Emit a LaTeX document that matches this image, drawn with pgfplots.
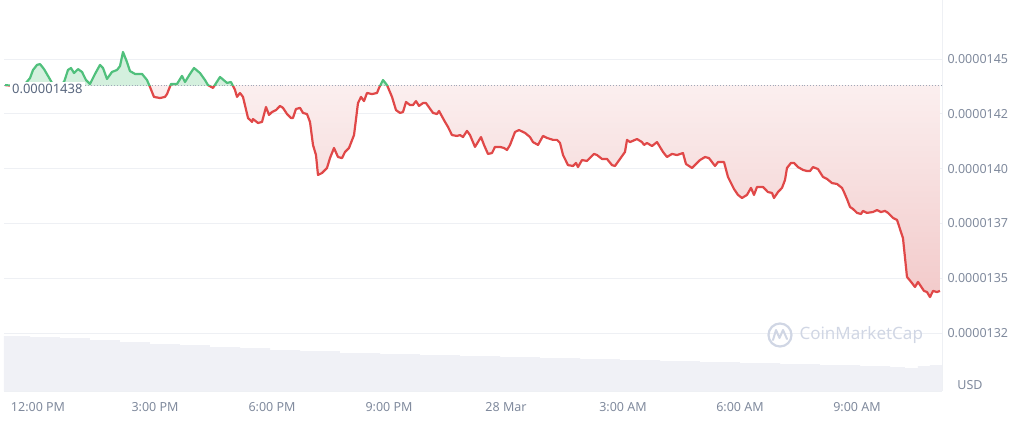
\documentclass[border=0pt]{standalone}
\usepackage{pgfplots}
\pgfplotsset{compat=1.18}
\usepackage{pgfplotstable}
\usepackage{fontspec}
\setmainfont{Noto Sans}
\definecolor{cmcred}{RGB}{224,72,72}
\definecolor{cmcgreen}{RGB}{80,192,124}
\definecolor{lbl}{RGB}{128,138,157}
\definecolor{dark}{RGB}{88,102,126}
\definecolor{gridc}{RGB}{238,240,244}
\definecolor{volc}{RGB}{240,241,246}
\definecolor{wm}{RGB}{208,214,228}
\definecolor{redfill}{RGB}{242,202,202}
\definecolor{greenfill}{RGB}{212,240,222}
\definecolor{dotc}{RGB}{160,168,184}

% price in units of 1e-8 USD, time in hours after 12:00 PM (27 Mar)
\pgfplotstableread{
h v
-0.846 1438.1
-0.590 1437.7
-0.333 1438.6
-0.205 1441.3
-0.128 1445.0
-0.026 1447.3
0.051 1447.7
0.154 1445.4
0.256 1442.3
0.359 1439.1
0.513 1437.7
0.667 1439.5
0.769 1445.0
0.846 1445.9
0.923 1443.6
1.026 1445.4
1.128 1444.1
1.231 1440.4
1.333 1438.6
1.462 1443.2
1.590 1447.3
1.667 1445.9
1.769 1440.9
1.897 1444.1
2.026 1445.0
2.103 1446.8
2.179 1453.2
2.282 1448.6
2.359 1444.5
2.487 1443.2
2.667 1443.2
2.795 1440.4
2.872 1437.2
2.974 1432.7
3.128 1432.2
3.256 1432.7
3.308 1434.0
3.410 1438.6
3.564 1438.6
3.692 1442.3
3.769 1439.5
3.897 1443.2
4.000 1445.9
4.154 1443.6
4.282 1440.4
4.359 1438.1
4.487 1436.8
4.667 1441.8
4.846 1439.1
4.949 1439.5
5.051 1435.9
5.103 1432.7
5.179 1434.5
5.256 1432.7
5.385 1423.1
5.487 1421.3
5.513 1422.6
5.641 1420.8
5.744 1421.3
5.846 1428.1
5.923 1424.5
6.000 1425.8
6.103 1426.7
6.205 1428.6
6.282 1427.7
6.385 1424.9
6.487 1423.1
6.538 1423.1
6.615 1427.2
6.718 1427.7
6.795 1425.4
6.897 1424.9
6.974 1421.3
7.051 1410.8
7.128 1406.2
7.179 1397.1
7.282 1398.0
7.410 1400.3
7.487 1404.8
7.590 1409.4
7.692 1405.3
7.795 1404.8
7.872 1407.6
7.974 1409.4
8.103 1415.3
8.205 1429.9
8.282 1432.7
8.359 1430.8
8.436 1434.5
8.564 1434.0
8.692 1434.5
8.744 1436.8
8.846 1440.4
8.949 1438.1
9.077 1432.7
9.179 1426.7
9.282 1425.4
9.359 1425.8
9.436 1430.4
9.538 1429.0
9.615 1429.0
9.692 1430.8
9.769 1428.6
9.872 1429.9
9.949 1429.9
10.128 1425.4
10.231 1424.9
10.282 1426.3
10.436 1421.3
10.513 1419.0
10.615 1415.3
10.744 1414.9
10.821 1415.3
10.897 1414.4
11.000 1417.2
11.077 1415.3
11.205 1409.9
11.359 1414.4
11.436 1410.8
11.538 1406.7
11.641 1407.1
11.718 1409.9
11.846 1409.9
11.949 1409.4
12.026 1408.5
12.103 1410.8
12.231 1416.7
12.333 1417.6
12.487 1416.3
12.615 1414.4
12.692 1412.1
12.821 1410.8
12.949 1414.9
13.051 1414.0
13.205 1413.1
13.308 1413.1
13.385 1411.7
13.462 1406.2
13.590 1401.6
13.718 1401.2
13.795 1402.6
13.846 1400.7
13.949 1403.9
14.077 1403.5
14.256 1406.7
14.333 1406.2
14.462 1404.4
14.590 1404.4
14.718 1401.6
14.795 1401.2
14.923 1404.4
15.051 1407.6
15.103 1413.1
15.179 1412.1
15.359 1413.5
15.487 1412.1
15.538 1410.8
15.615 1411.7
15.744 1410.3
15.872 1412.1
16.026 1407.6
16.128 1405.3
16.256 1406.7
16.385 1406.2
16.538 1407.1
16.615 1402.1
16.769 1400.3
16.872 1402.1
16.974 1403.9
17.103 1405.3
17.205 1404.8
17.359 1401.2
17.436 1403.0
17.590 1403.0
17.692 1396.2
17.846 1390.7
17.949 1388.0
18.051 1386.6
18.179 1388.0
18.282 1391.2
18.359 1388.0
18.436 1391.6
18.590 1391.6
18.718 1389.3
18.821 1388.9
18.872 1386.6
18.974 1389.3
19.077 1391.2
19.154 1394.8
19.205 1400.3
19.308 1402.6
19.385 1402.6
19.487 1400.7
19.615 1399.4
19.718 1398.9
19.795 1398.9
19.872 1400.7
20.000 1399.8
20.128 1396.2
20.231 1395.3
20.359 1393.4
20.487 1393.0
20.615 1391.2
20.667 1389.3
20.744 1386.1
20.821 1382.5
20.897 1381.6
21.000 1379.8
21.103 1379.3
21.154 1380.7
21.256 1379.8
21.410 1380.2
21.513 1381.1
21.615 1380.2
21.718 1380.7
21.795 1379.8
21.923 1377.5
22.026 1376.6
22.179 1368.3
22.282 1350.6
22.410 1347.8
22.487 1346.0
22.564 1348.3
22.718 1344.2
22.795 1343.7
22.872 1341.4
22.949 1344.2
23.051 1343.7
23.128 1344.2
}\price

% relative volume
\pgfplotstableread{
h vol
-0.872 55
-0.20 54
0.56 53
1.33 51
2.10 49
2.87 47
3.64 46
4.41 44
5.18 43
5.95 41
6.72 40
7.74 38
8.77 37
9.79 36
10.82 35
11.85 34
12.87 33
13.90 32
14.92 31
15.95 30
16.97 29
18.00 28
19.03 27
20.05 26
21.08 25
21.85 24
22.23 23
22.56 25
22.87 26
23.18 26
}\volume

\begin{document}
\begin{tikzpicture}[x=1pt,y=1pt]
\useasboundingbox (0,0) rectangle (1024,423);
% volume
\begin{axis}[at={(4pt,32pt)}, anchor=south west, scale only axis,
  width=938pt, height=391pt, xmin=-0.872, xmax=23.18, ymin=0, ymax=391, hide axis]
\addplot[const plot, fill=volc, draw=none] table[x=h,y=vol] {\volume} \closedcycle;
\end{axis}
% price
\begin{axis}[at={(4pt,32pt)}, anchor=south west, scale only axis,
  width=938pt, height=391pt, xmin=-0.872, xmax=23.18, ymin=1298.55, ymax=1476.92,
  axis x line*=bottom, axis y line*=right,
  axis line style={draw=gridc, line width=1pt},
  ytick={1325,1350,1375,1400,1425,1450},
  yticklabels={0.0000132,0.0000135,0.0000137,0.0000140,0.0000142,0.0000145},
  ymajorgrids, grid style={draw=gridc, line width=1pt},
  xtick={0,3,6,9,12,15,18,21},
  xticklabels={12:00 PM,3:00 PM,6:00 PM,9:00 PM,28 Mar,3:00 AM,6:00 AM,9:00 AM},
  major tick length=0pt,
  tick label style={font=\fontsize{12.5}{14}\selectfont, text=lbl},
  yticklabel style={xshift=2pt},
  xticklabel style={yshift=-8pt}]
\begin{scope}
\clip (axis cs:-2,1438) rectangle (axis cs:25,1290);
\addplot[draw=none, top color=white, bottom color=redfill] table[x=h,y=v] {\price}
  -- (axis cs:23.128,1480) -- (axis cs:-0.846,1480) -- cycle;
\end{scope}
\begin{scope}
\clip (axis cs:-2,1438) rectangle (axis cs:25,1490);
\addplot[draw=none, fill=greenfill] table[x=h,y=v] {\price}
  -- (axis cs:23.128,1290) -- (axis cs:-0.846,1290) -- cycle;
\end{scope}
\draw[dotc, dotted, line width=0.9pt] (axis cs:-0.872,1438) -- (axis cs:23.18,1438);
\begin{scope}
\clip (axis cs:-2,1438) rectangle (axis cs:25,1290);
\addplot[cmcred, line width=2.2pt, line join=round] table[x=h,y=v] {\price};
\end{scope}
\begin{scope}
\clip (axis cs:-2,1438) rectangle (axis cs:25,1490);
\addplot[cmcgreen, line width=2.2pt, line join=round] table[x=h,y=v] {\price};
\end{scope}
\node[anchor=west, fill=white, inner xsep=2pt, inner ysep=2pt, text=dark,
  font=\fontsize{13}{15}\selectfont] at (axis cs:-0.72,1436.6) {0.00001438};
\end{axis}
% watermark
\draw[wm, line width=2.2pt] (780,88) circle (11.5);
\draw[wm, line width=2pt, line join=round, line cap=round] (773,83) -- (776,93) -- (779.5,85) -- (783,93) -- (787,84);
\node[anchor=west, text=wm, font=\fontsize{17}{19}\selectfont] at (796,88) {CoinMarketCap};
\node[text=lbl, font=\bfseries\fontsize{12.5}{14}\selectfont] at (970,38) {USD};
\end{tikzpicture}
\end{document}
